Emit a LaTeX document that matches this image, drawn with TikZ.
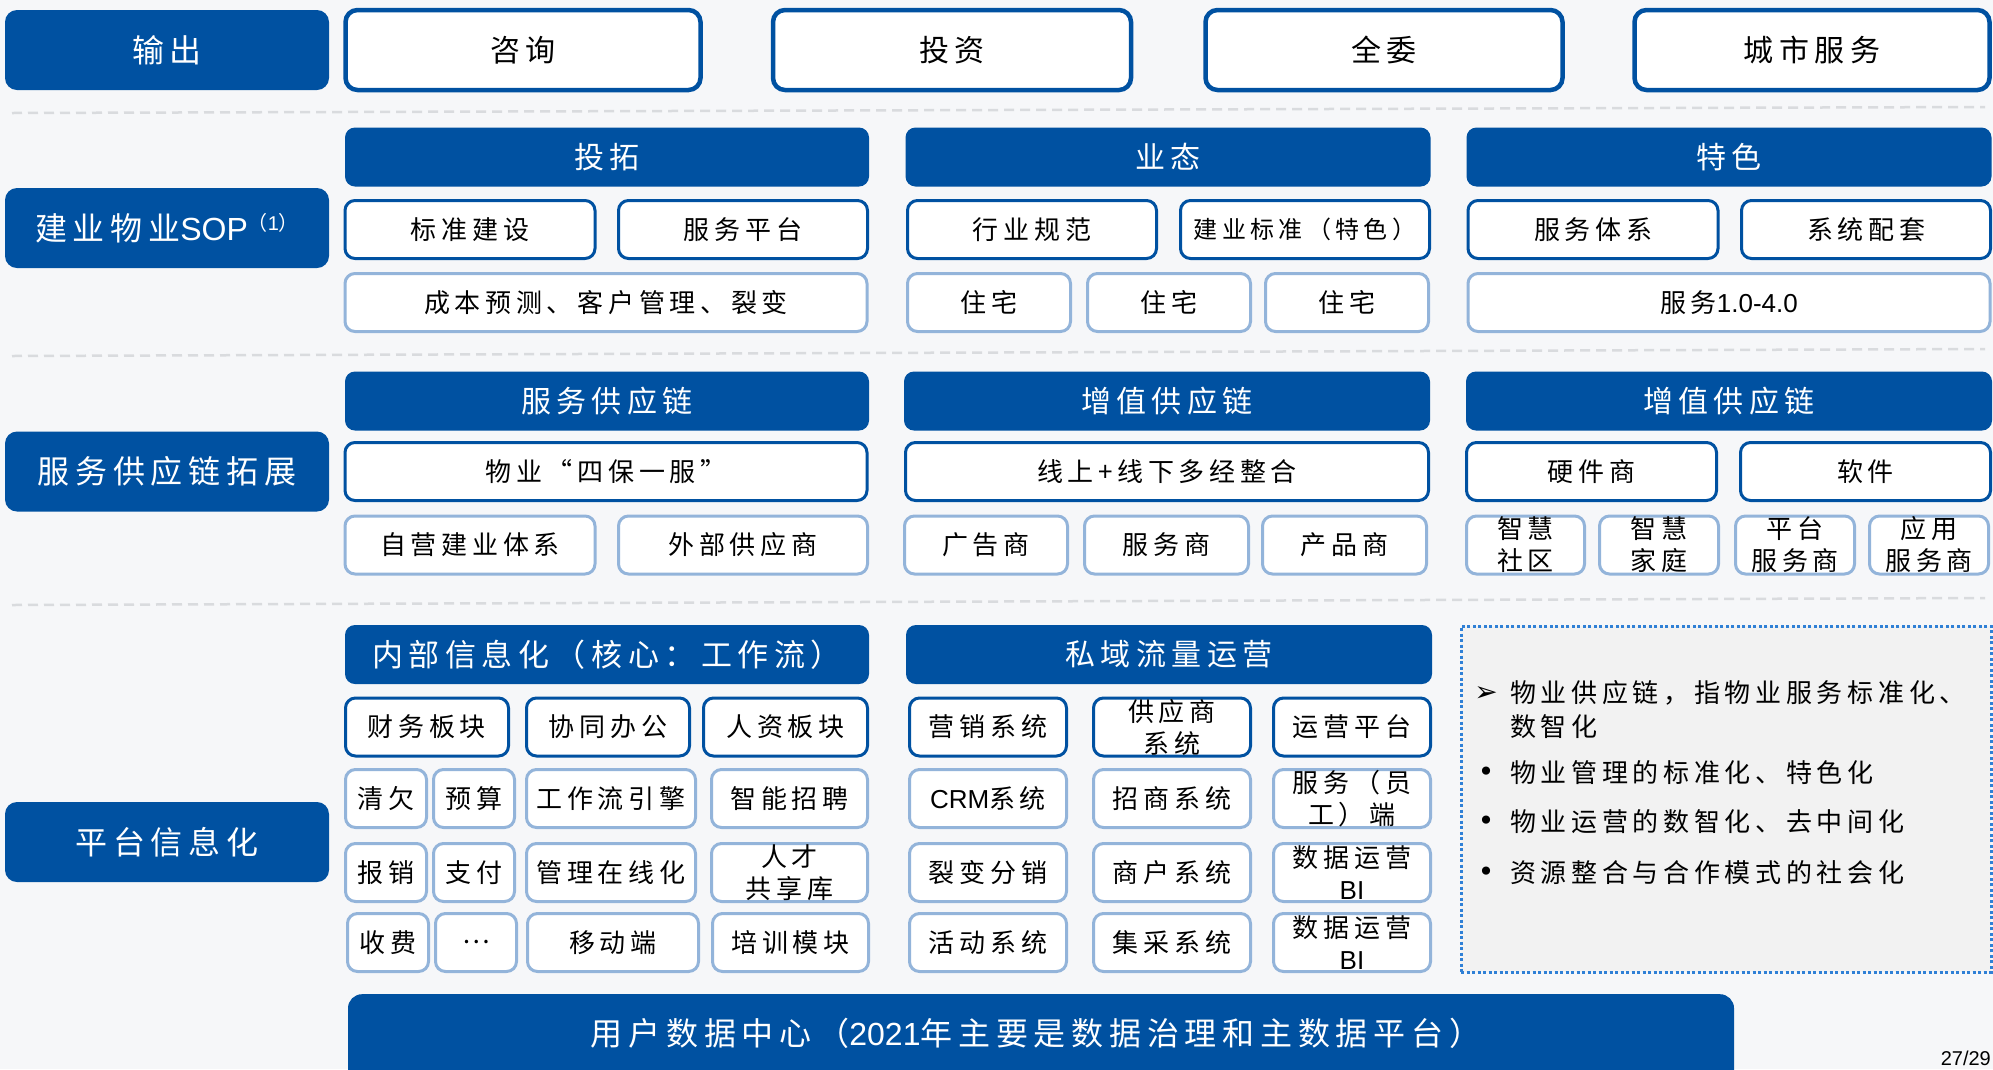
\documentclass[tikz,border=0pt]{standalone}
\usepackage{fontspec}
\setmainfont{Noto Sans CJK SC}[LetterSpace=18]
\newfontfamily\latin{Liberation Sans}
\newfontfamily\symb{DejaVu Sans}
\definecolor{jyblue}{HTML}{0051A1}
\definecolor{jylight}{HTML}{93B4DA}
\definecolor{jydot}{HTML}{2F80D6}
\definecolor{jybg}{HTML}{F6F7F9}
\definecolor{jynote}{HTML}{F2F2F2}
\definecolor{jydash}{HTML}{D9DBDE}
\begin{document}
\begin{tikzpicture}[x=1pt,y=-1pt,
  every node/.style={inner sep=0pt, align=center},
  sidebox/.style={fill=jyblue, rounded corners=12pt, text=white, minimum width=324pt, minimum height=80pt, font=\fontsize{32}{36}\selectfont},
  outbox/.style={fill=white, draw=jyblue, line width=4.5pt, rounded corners=12pt, minimum height=80pt, font=\fontsize{30}{36}\selectfont},
  headbox/.style={fill=jyblue, rounded corners=10pt, text=white, minimum height=59pt, font=\fontsize{30}{34}\selectfont},
  darkbox/.style={fill=white, draw=jyblue, line width=3pt, rounded corners=10pt, minimum height=58pt, font=\fontsize{26}{32}\selectfont},
  lightbox/.style={fill=white, draw=jylight, line width=3pt, rounded corners=10pt, minimum height=58pt, font=\fontsize{26}{32}\selectfont},
  notetext/.style={anchor=west, font=\fontsize{26}{32}\selectfont},
  notetip/.style={font=\symb\fontsize{28}{28}\selectfont},
  sepline/.style={draw=jydash, line width=2.5pt, dash pattern=on 10pt off 6pt}]
\useasboundingbox (0,0) rectangle (1993,1069);
\fill[jybg] (0,0) rectangle (1993,1069);

% output row
\node[sidebox] (output) at (167,50) {输出};
\node[outbox, minimum width=355pt] (consult) at (523,50) {咨询};
\node[outbox, minimum width=358pt] (invest) at (952,50) {投资};
\node[outbox, minimum width=357pt] (entrust) at (1384,50) {全委};
\node[outbox, minimum width=355pt] (city) at (1812,50) {城市服务};
\draw[sepline] (12,113) -- (1985,107);

% SOP
\node[sidebox] (sop) at (167,228) {建业物业{\latin SOP}\raisebox{10pt}{\fontsize{20}{20}\selectfont（{\latin 1}）}};
\node[headbox, minimum width=524pt] (expand) at (607,157) {投拓};
\node[headbox, minimum width=525pt] (format) at (1168,157) {业态};
\node[headbox, minimum width=525pt] (feature) at (1729,157) {特色};
\node[darkbox, minimum width=250pt] (stdbuild) at (470,229.5) {标准建设};
\node[darkbox, minimum width=249pt] (servplat) at (743,229.5) {服务平台};
\node[darkbox, minimum width=249pt] (norm) at (1032,229.5) {行业规范};
\node[darkbox, minimum width=249pt, font=\fontsize{24}{30}\selectfont] (jystd) at (1305,229.5) {建业标准（特色）};
\node[darkbox, minimum width=250pt] (servsys) at (1593,229.5) {服务体系};
\node[darkbox, minimum width=249pt] (support) at (1866,229.5) {系统配套};
\node[lightbox, minimum width=522pt] (cost) at (606,302.5) {成本预测、客户管理、裂变};
\node[lightbox, minimum width=163pt] (home1) at (989,302.5) {住宅};
\node[lightbox, minimum width=163pt] (home2) at (1169,302.5) {住宅};
\node[lightbox, minimum width=163pt] (home3) at (1347,302.5) {住宅};
\node[lightbox, minimum width=522pt] (servver) at (1729,302.5) {服务{\latin 1.0-4.0}};
\draw[sepline] (12,356) -- (1985,349);

% supply chain
\node[sidebox] (chain) at (167,471.5) {服务供应链拓展};
\node[headbox, minimum width=524pt] (servchain) at (607,401) {服务供应链};
\node[headbox, minimum width=526pt] (addchain) at (1167,401) {增值供应链};
\node[headbox, minimum width=526pt] (addchainb) at (1729,401) {增值供应链};
\node[darkbox, minimum width=522pt] (fourone) at (606,471.5) {物业“四保一服”};
\node[darkbox, minimum width=523pt] (online) at (1167,471.5) {线上+线下多经整合};
\node[darkbox, minimum width=250pt] (hardware) at (1591.5,471.5) {硬件商};
\node[darkbox, minimum width=250pt] (software) at (1865.5,471.5) {软件};
\node[lightbox, minimum width=250pt] (selfrun) at (470,545) {自营建业体系};
\node[lightbox, minimum width=249pt] (external) at (743,545) {外部供应商};
\node[lightbox, minimum width=163pt] (ads) at (986,545) {广告商};
\node[lightbox, minimum width=164pt] (servpro) at (1166.5,545) {服务商};
\node[lightbox, minimum width=164pt] (product) at (1344.5,545) {产品商};
\node[lightbox, minimum width=118pt] (community) at (1525.5,545) {智慧\\社区};
\node[lightbox, minimum width=119pt] (family) at (1659,545) {智慧\\家庭};
\node[lightbox, minimum width=119pt] (platpro) at (1795,545) {平台\\服务商};
\node[lightbox, minimum width=119pt] (apppro) at (1929,545) {应用\\服务商};
\draw[sepline] (12,605) -- (1985,598);

% platform
\node[sidebox] (platform) at (167,842) {平台信息化};
\node[headbox, minimum width=524pt, font=\fontsize{31}{34}\selectfont] (internal) at (607,654.5) {内部信息化（核心：工作流）};
\node[headbox, minimum width=526pt] (private) at (1169,654.5) {私域流量运营};

\node[darkbox, minimum width=163pt] (finance) at (427,727) {财务板块};
\node[darkbox, minimum width=163pt] (collab) at (608,727) {协同办公};
\node[darkbox, minimum width=164pt] (hr) at (785.5,727) {人资板块};
\node[lightbox, minimum width=81pt] (arrears) at (386,798.5) {清欠};
\node[lightbox, minimum width=81pt] (budget) at (474,798.5) {预算};
\node[lightbox, minimum width=169pt] (workflow) at (611,798.5) {工作流引擎};
\node[lightbox, minimum width=156pt] (recruit) at (789.5,798.5) {智能招聘};
\node[lightbox, minimum width=81pt] (reimb) at (386,872.5) {报销};
\node[lightbox, minimum width=81pt] (pay) at (474,872.5) {支付};
\node[lightbox, minimum width=169pt] (mgmt) at (611,872.5) {管理在线化};
\node[lightbox, minimum width=156pt] (talent) at (789.5,872.5) {人才\\共享库};
\node[lightbox, minimum width=81pt] (fee) at (388,942.5) {收费};
\node[lightbox, minimum width=81pt] (more) at (476,942.5) {…};
\node[lightbox, minimum width=171pt] (mobile) at (613,942.5) {移动端};
\node[lightbox, minimum width=156pt] (training) at (790.5,942.5) {培训模块};

\node[darkbox, minimum width=157pt] (marketing) at (988,727) {营销系统};
\node[darkbox, minimum width=157pt] (supplier) at (1172,727) {供应商\\系统};
\node[darkbox, minimum width=157pt] (opsplat) at (1352,727) {运营平台};
\node[lightbox, minimum width=157pt] (crm) at (988,798.5) {{\latin CRM}系统};
\node[lightbox, minimum width=157pt] (invite) at (1172,798.5) {招商系统};
\node[lightbox, minimum width=157pt] (staff) at (1352,798.5) {服务（员\\工）端};
\node[lightbox, minimum width=157pt] (fission) at (988,872.5) {裂变分销};
\node[lightbox, minimum width=157pt] (merchant) at (1172,872.5) {商户系统};
\node[lightbox, minimum width=157pt] (bia) at (1352,872.5) {数据运营\\{\latin BI}};
\node[lightbox, minimum width=157pt] (activity) at (988,942.5) {活动系统};
\node[lightbox, minimum width=157pt] (purchase) at (1172,942.5) {集采系统};
\node[lightbox, minimum width=157pt] (bib) at (1352,942.5) {数据运营\\{\latin BI}};

% note
\node[draw=jydot, fill=jynote, line width=3pt, dash pattern=on 3pt off 2.5pt, minimum width=530pt, minimum height=346pt] (note) at (1726,799) {};
\node[notetip] (tipa) at (1486,694) {➢};
\node[notetext] (linea) at (1510,693) {物业供应链，指物业服务标准化、};
\node[notetext] (lineb) at (1510,727) {数智化};
\node[notetip] (tipb) at (1486,774) {•};
\node[notetext] (linec) at (1510,773) {物业管理的标准化、特色化};
\node[notetip] (tipc) at (1486,823) {•};
\node[notetext] (lined) at (1510,822) {物业运营的数智化、去中间化};
\node[notetip] (tipd) at (1486,874) {•};
\node[notetext] (linee) at (1510,873) {资源整合与合作模式的社会化};

% data center
\node[fill=jyblue, rounded corners=14pt, minimum width=1386pt, minimum height=110pt, anchor=north] (datacenter) at (1041,994) {};
\node[text=white, font=\fontsize{32}{36}\selectfont] (dctext) at (1036,1033) {用户数据中心（{\latin 2021}年主要是数据治理和主数据平台）};
\node[anchor=base east, font=\latin\fontsize{20}{20}\selectfont] (page) at (1991,1065) {27/29};
\end{tikzpicture}
\end{document}
